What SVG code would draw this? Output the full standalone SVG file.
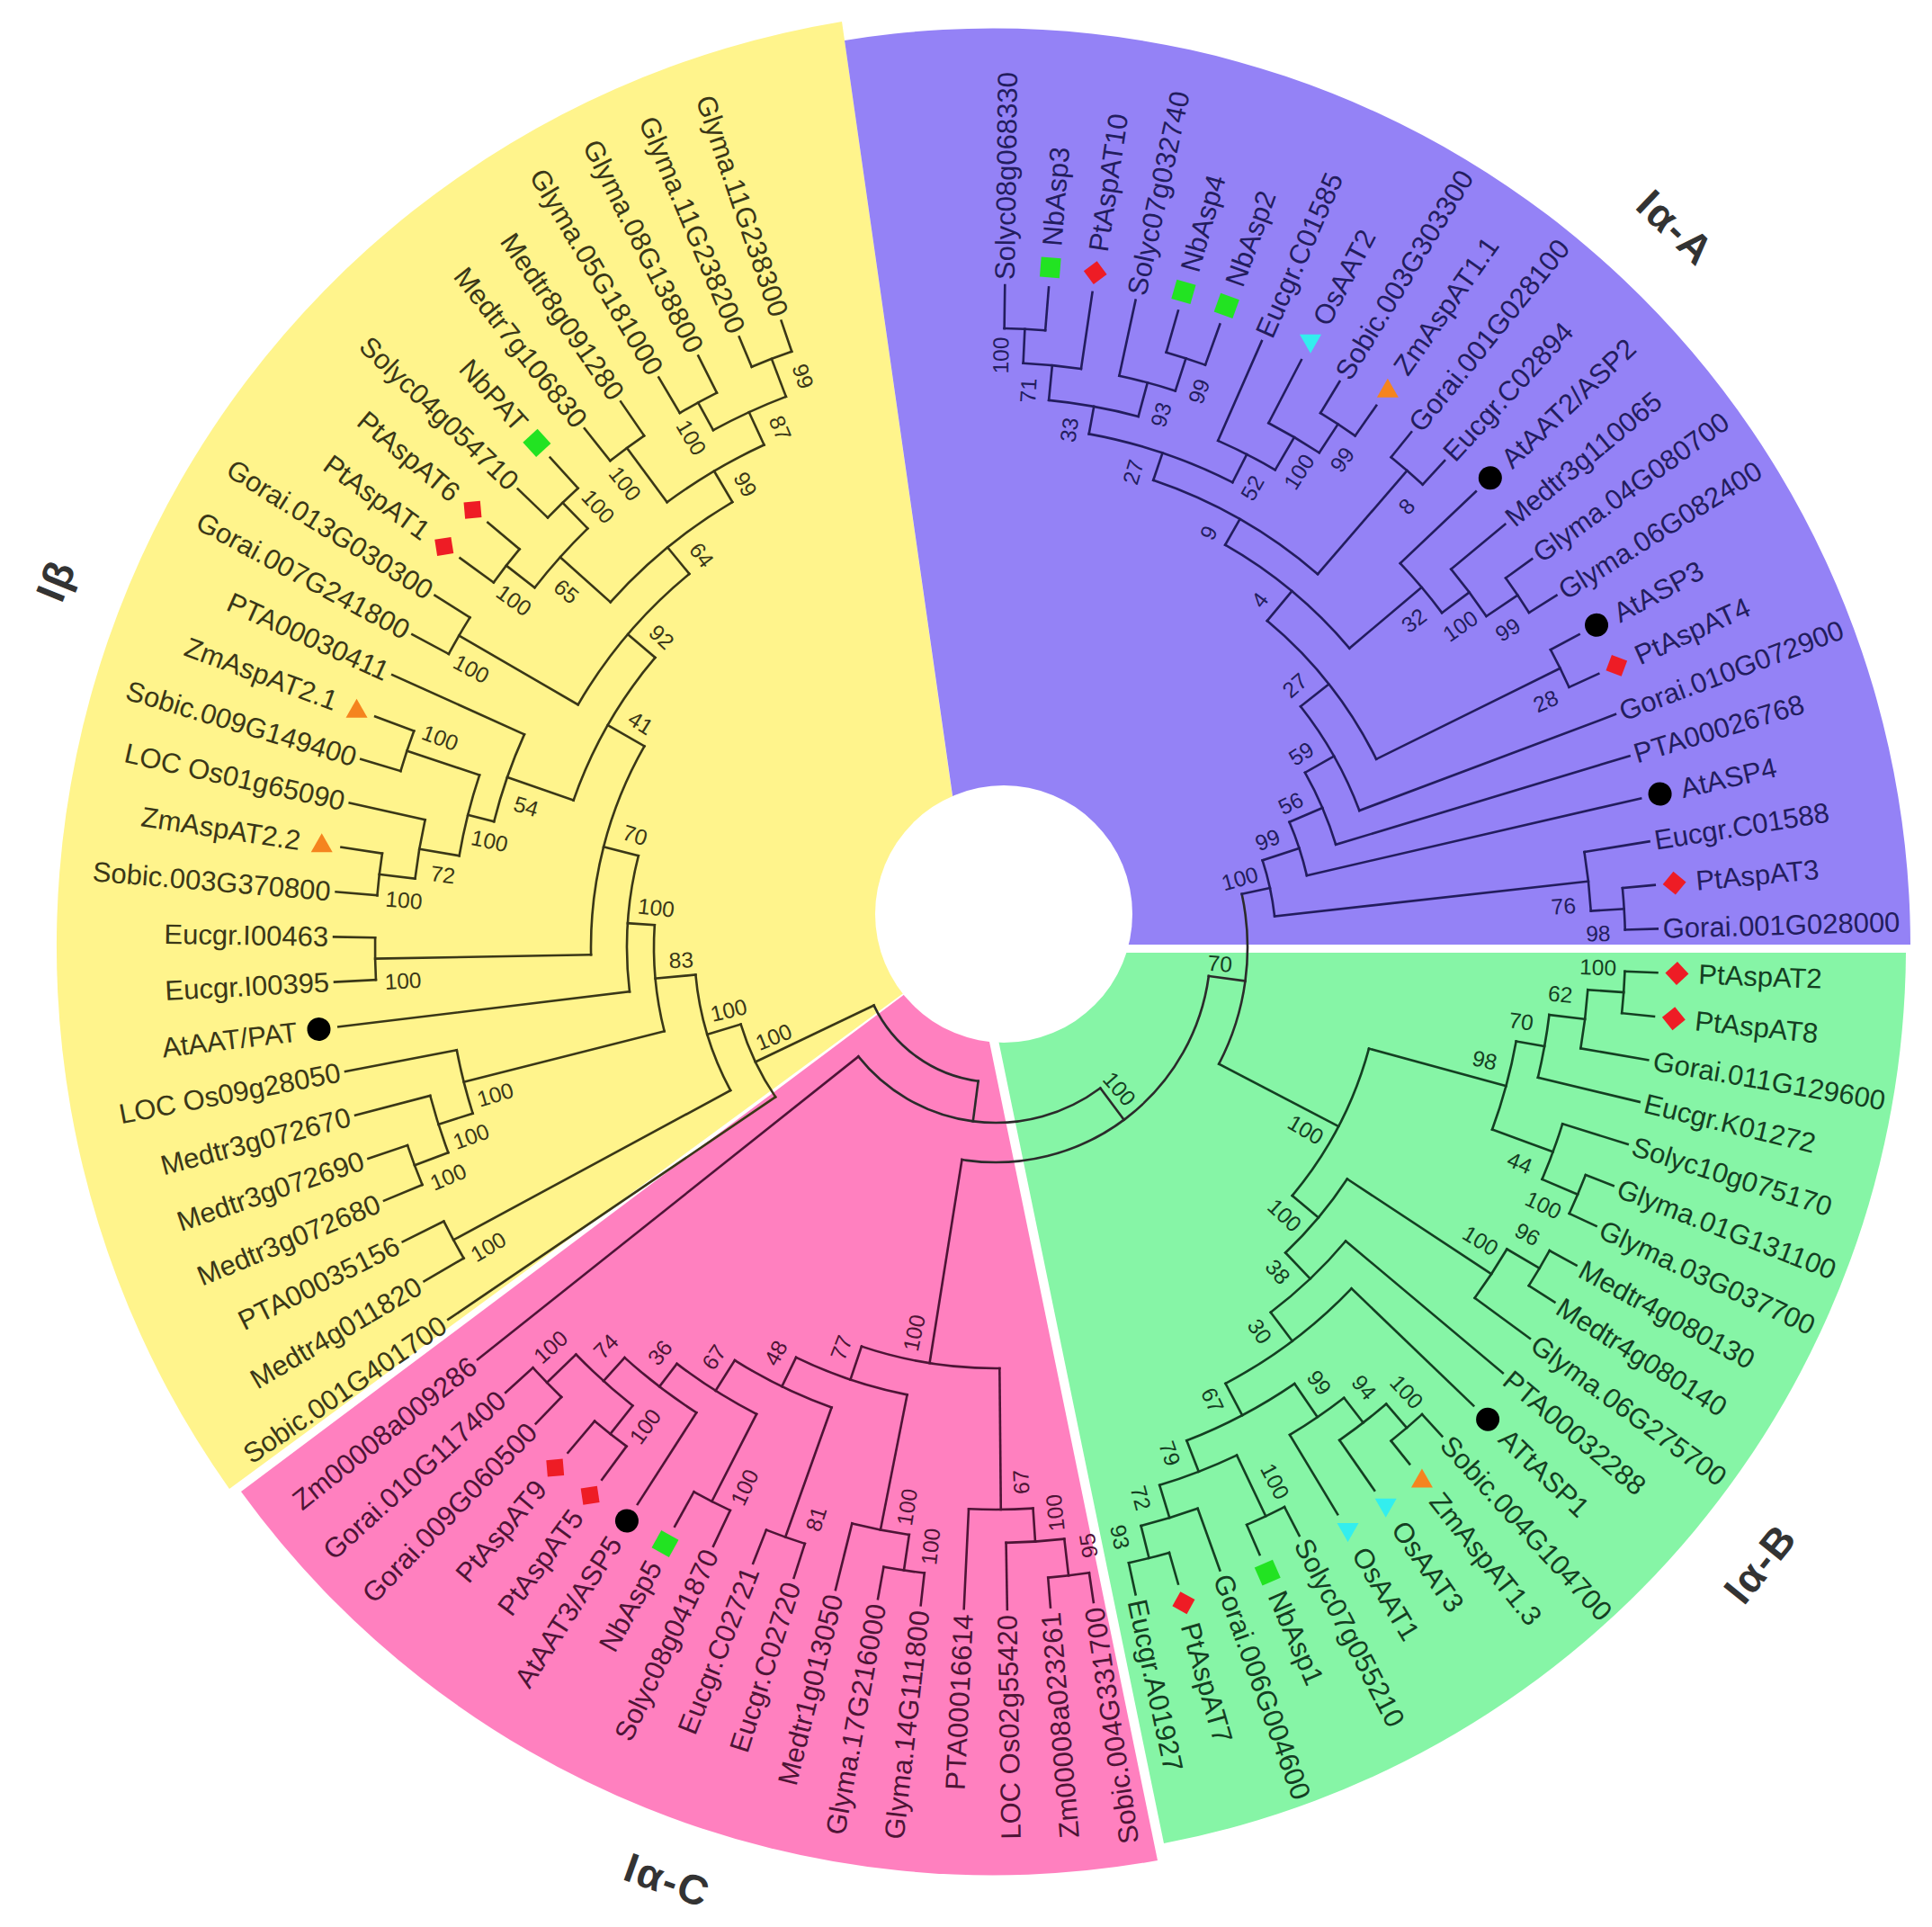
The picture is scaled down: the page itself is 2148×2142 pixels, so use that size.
<svg xmlns="http://www.w3.org/2000/svg" width="2148" height="2142" viewBox="0 0 2148 2142">
<style>
text{font-family:'Liberation Sans',Arial,sans-serif;dominant-baseline:central}
.t{font-size:31px}
.e{text-anchor:end}
.b{font-size:24.5px;text-anchor:middle}
.cl{font-size:46px;font-weight:bold;fill:#333;text-anchor:middle;letter-spacing:2px}
.A{fill:#231d5e}.B{fill:#143f22}.C{fill:#4e1436}.Y{fill:#3a3717}
</style>
<defs>
<rect id="sq" x="-11" y="-11" width="22" height="22" fill="#22e322"/>
<path id="di" d="M-13 0L0-13L13 0L0 13Z" fill="#ee1c25"/>
<circle id="ci" r="13" fill="#000"/>
<path id="tu" d="M0-12L12 9H-12Z" fill="#f5841f"/>
<path id="td" d="M-12-9H12L0 12Z" fill="#33eeee"/>
</defs>
<rect width="2148" height="2142" fill="#fff"/>
<g id="sectors" transform="translate(1104 1052)">
<path d="M-22 -5L-849 603A1042 1042 0 0 1 -168 -1028Z" fill="#fff48c"/>
<path d="M-21 0L-165 -1007A1020 1020 0 0 1 1020 -2L20 -2Z" fill="#9482f6"/>
<path d="M-14 7L1015 7A1015 1015 0 0 1 190 997Z" fill="#86f5a6"/>
<path d="M-26 -1L183 1016A1032 1032 0 0 1 -836 606Z" fill="#ff80bf"/>
</g>
<circle id="hole" cx="1116" cy="1016" r="143" fill="#fff"/>
<g id="branches" transform="translate(1107 1053)" fill="none" stroke-width="2.6" stroke-linecap="square">
<g id="br-root" stroke="#2b2b2b">
<circle r="280" pathLength="360" stroke-dasharray="39.77 720" transform="rotate(-12.2)"/>
<circle r="239" pathLength="360" stroke-dasharray="91.34 720" transform="rotate(7.69)"/>
<circle r="195" pathLength="360" stroke-dasharray="88.14 720" transform="rotate(53.36)"/>
<circle r="150" pathLength="360" stroke-dasharray="57.07 720" transform="rotate(97.43)"/>
<line x1="239" x2="280" transform="rotate(7.69)"/>
<line x1="195" x2="239" transform="rotate(53.36)"/>
<line x1="150" x2="195" transform="rotate(97.43)"/>
</g>
<g id="br-A" stroke="#231d5e">
<circle r="688" pathLength="360" stroke-dasharray="3.8 720" transform="rotate(-89.2)"/>
<circle r="650" pathLength="360" stroke-dasharray="5.7 720" transform="rotate(-87.3)"/>
<circle r="688" pathLength="360" stroke-dasharray="3.8 720" transform="rotate(-74)"/>
<circle r="650" pathLength="360" stroke-dasharray="5.7 720" transform="rotate(-77.8)"/>
<circle r="611" pathLength="360" stroke-dasharray="9.5 720" transform="rotate(-84.45)"/>
<circle r="695" pathLength="360" stroke-dasharray="3.8 720" transform="rotate(-58.7)"/>
<circle r="657" pathLength="360" stroke-dasharray="5.7 720" transform="rotate(-62.5)"/>
<circle r="615" pathLength="360" stroke-dasharray="6.65 720" transform="rotate(-66.3)"/>
<circle r="580" pathLength="360" stroke-dasharray="16.7 720" transform="rotate(-79.7)"/>
<circle r="700" pathLength="360" stroke-dasharray="3.8 720" transform="rotate(-51.1)"/>
<circle r="548" pathLength="360" stroke-dasharray="22.15 720" transform="rotate(-71.35)"/>
<circle r="700" pathLength="360" stroke-dasharray="3.8 720" transform="rotate(-35.9)"/>
<circle r="658" pathLength="360" stroke-dasharray="5.7 720" transform="rotate(-39.7)"/>
<circle r="620" pathLength="360" stroke-dasharray="6.65 720" transform="rotate(-43.5)"/>
<circle r="515" pathLength="360" stroke-dasharray="20.1 720" transform="rotate(-60.3)"/>
<circle r="700" pathLength="360" stroke-dasharray="3.8 720" transform="rotate(-28.2)"/>
<circle r="472" pathLength="360" stroke-dasharray="23.95 720" transform="rotate(-50.25)"/>
<circle r="432" pathLength="360" stroke-dasharray="17.7 720" transform="rotate(-38.3)"/>
<circle r="395" pathLength="360" stroke-dasharray="12.65 720" transform="rotate(-29.45)"/>
<circle r="355" pathLength="360" stroke-dasharray="10.1 720" transform="rotate(-23.1)"/>
<circle r="700" pathLength="360" stroke-dasharray="3.8 720" transform="rotate(-5.4)"/>
<circle r="663" pathLength="360" stroke-dasharray="5.7 720" transform="rotate(-9.2)"/>
<circle r="312" pathLength="360" stroke-dasharray="11.7 720" transform="rotate(-18.05)"/>
<line x1="688" x2="736" transform="rotate(-89.2)"/>
<line x1="688" x2="736" transform="rotate(-85.4)"/>
<line x1="650" x2="736" transform="rotate(-81.6)"/>
<line x1="650" x2="736" transform="rotate(-77.8)"/>
<line x1="688" x2="736" transform="rotate(-74)"/>
<line x1="688" x2="736" transform="rotate(-70.2)"/>
<line x1="615" x2="736" transform="rotate(-66.3)"/>
<line x1="657" x2="736" transform="rotate(-62.5)"/>
<line x1="695" x2="736" transform="rotate(-58.7)"/>
<line x1="695" x2="736" transform="rotate(-54.9)"/>
<line x1="700" x2="736" transform="rotate(-51.1)"/>
<line x1="700" x2="736" transform="rotate(-47.3)"/>
<line x1="620" x2="736" transform="rotate(-43.5)"/>
<line x1="658" x2="736" transform="rotate(-39.7)"/>
<line x1="700" x2="736" transform="rotate(-35.9)"/>
<line x1="700" x2="736" transform="rotate(-32.1)"/>
<line x1="700" x2="736" transform="rotate(-28.2)"/>
<line x1="700" x2="736" transform="rotate(-24.4)"/>
<line x1="432" x2="736" transform="rotate(-20.6)"/>
<line x1="395" x2="736" transform="rotate(-16.8)"/>
<line x1="355" x2="736" transform="rotate(-13)"/>
<line x1="663" x2="736" transform="rotate(-9.2)"/>
<line x1="700" x2="736" transform="rotate(-5.4)"/>
<line x1="700" x2="736" transform="rotate(-1.6)"/>
<line x1="650" x2="688" transform="rotate(-87.3)"/>
<line x1="611" x2="650" transform="rotate(-84.45)"/>
<line x1="650" x2="688" transform="rotate(-72.1)"/>
<line x1="611" x2="650" transform="rotate(-74.95)"/>
<line x1="580" x2="611" transform="rotate(-79.7)"/>
<line x1="657" x2="695" transform="rotate(-56.8)"/>
<line x1="615" x2="657" transform="rotate(-59.65)"/>
<line x1="580" x2="615" transform="rotate(-63)"/>
<line x1="548" x2="580" transform="rotate(-71.35)"/>
<line x1="548" x2="700" transform="rotate(-49.2)"/>
<line x1="515" x2="548" transform="rotate(-60.3)"/>
<line x1="658" x2="700" transform="rotate(-34)"/>
<line x1="620" x2="658" transform="rotate(-36.85)"/>
<line x1="515" x2="620" transform="rotate(-40.2)"/>
<line x1="472" x2="515" transform="rotate(-50.25)"/>
<line x1="472" x2="700" transform="rotate(-26.3)"/>
<line x1="432" x2="472" transform="rotate(-38.3)"/>
<line x1="395" x2="432" transform="rotate(-29.45)"/>
<line x1="355" x2="395" transform="rotate(-23.1)"/>
<line x1="312" x2="355" transform="rotate(-18.05)"/>
<line x1="663" x2="700" transform="rotate(-3.5)"/>
<line x1="312" x2="663" transform="rotate(-6.35)"/>
<line x1="280" x2="312" transform="rotate(-12.2)"/>
</g>
<g id="br-B" stroke="#143f22">
<circle r="700" pathLength="360" stroke-dasharray="3.8 720" transform="rotate(2.2)"/>
<circle r="660" pathLength="360" stroke-dasharray="5.7 720" transform="rotate(4.1)"/>
<circle r="620" pathLength="360" stroke-dasharray="6.55 720" transform="rotate(6.95)"/>
<circle r="703" pathLength="360" stroke-dasharray="3.8 720" transform="rotate(21.1)"/>
<circle r="660" pathLength="360" stroke-dasharray="5.7 720" transform="rotate(17.3)"/>
<circle r="588" pathLength="360" stroke-dasharray="9.92 720" transform="rotate(10.23)"/>
<circle r="702" pathLength="360" stroke-dasharray="3.7 720" transform="rotate(28.7)"/>
<circle r="660" pathLength="360" stroke-dasharray="5.65 720" transform="rotate(30.55)"/>
<circle r="703" pathLength="360" stroke-dasharray="3.7 720" transform="rotate(47.6)"/>
<circle r="668" pathLength="360" stroke-dasharray="5.65 720" transform="rotate(49.45)"/>
<circle r="633" pathLength="360" stroke-dasharray="6.62 720" transform="rotate(52.28)"/>
<circle r="700" pathLength="360" stroke-dasharray="3.8 720" transform="rotate(62.7)"/>
<circle r="700" pathLength="360" stroke-dasharray="3.8 720" transform="rotate(74)"/>
<circle r="663" pathLength="360" stroke-dasharray="5.7 720" transform="rotate(70.2)"/>
<circle r="625" pathLength="360" stroke-dasharray="8.45 720" transform="rotate(64.6)"/>
<circle r="588" pathLength="360" stroke-dasharray="13.24 720" transform="rotate(55.59)"/>
<circle r="548" pathLength="360" stroke-dasharray="18.41 720" transform="rotate(43.8)"/>
<circle r="508" pathLength="360" stroke-dasharray="13 720" transform="rotate(40)"/>
<circle r="468" pathLength="360" stroke-dasharray="13.12 720" transform="rotate(33.38)"/>
<circle r="430" pathLength="360" stroke-dasharray="24.75 720" transform="rotate(15.19)"/>
<line x1="700" x2="736" transform="rotate(2.2)"/>
<line x1="700" x2="736" transform="rotate(6)"/>
<line x1="660" x2="736" transform="rotate(9.8)"/>
<line x1="620" x2="736" transform="rotate(13.5)"/>
<line x1="660" x2="736" transform="rotate(17.3)"/>
<line x1="703" x2="736" transform="rotate(21.1)"/>
<line x1="703" x2="736" transform="rotate(24.9)"/>
<line x1="702" x2="736" transform="rotate(28.7)"/>
<line x1="702" x2="736" transform="rotate(32.4)"/>
<line x1="660" x2="736" transform="rotate(36.2)"/>
<line x1="508" x2="736" transform="rotate(40)"/>
<line x1="548" x2="736" transform="rotate(43.8)"/>
<line x1="703" x2="736" transform="rotate(47.6)"/>
<line x1="703" x2="736" transform="rotate(51.3)"/>
<line x1="668" x2="736" transform="rotate(55.1)"/>
<line x1="633" x2="736" transform="rotate(58.9)"/>
<line x1="700" x2="736" transform="rotate(62.7)"/>
<line x1="700" x2="736" transform="rotate(66.5)"/>
<line x1="663" x2="736" transform="rotate(70.2)"/>
<line x1="700" x2="736" transform="rotate(74)"/>
<line x1="700" x2="736" transform="rotate(77.8)"/>
<line x1="660" x2="700" transform="rotate(4.1)"/>
<line x1="620" x2="660" transform="rotate(6.95)"/>
<line x1="588" x2="620" transform="rotate(10.23)"/>
<line x1="660" x2="703" transform="rotate(23)"/>
<line x1="588" x2="660" transform="rotate(20.15)"/>
<line x1="430" x2="588" transform="rotate(15.19)"/>
<line x1="660" x2="702" transform="rotate(30.55)"/>
<line x1="468" x2="660" transform="rotate(33.38)"/>
<line x1="668" x2="703" transform="rotate(49.45)"/>
<line x1="633" x2="668" transform="rotate(52.28)"/>
<line x1="588" x2="633" transform="rotate(55.59)"/>
<line x1="625" x2="700" transform="rotate(64.6)"/>
<line x1="663" x2="700" transform="rotate(75.9)"/>
<line x1="625" x2="663" transform="rotate(73.05)"/>
<line x1="588" x2="625" transform="rotate(68.83)"/>
<line x1="548" x2="588" transform="rotate(62.21)"/>
<line x1="508" x2="548" transform="rotate(53)"/>
<line x1="468" x2="508" transform="rotate(46.5)"/>
<line x1="430" x2="468" transform="rotate(39.94)"/>
<line x1="280" x2="430" transform="rotate(27.57)"/>
</g>
<g id="br-C" stroke="#4e1436">
<circle r="703" pathLength="360" stroke-dasharray="3.75 720" transform="rotate(81.5)"/>
<circle r="662" pathLength="360" stroke-dasharray="5.62 720" transform="rotate(83.38)"/>
<circle r="625" pathLength="360" stroke-dasharray="6.56 720" transform="rotate(86.19)"/>
<circle r="700" pathLength="360" stroke-dasharray="3.75 720" transform="rotate(96.5)"/>
<circle r="660" pathLength="360" stroke-dasharray="5.62 720" transform="rotate(98.38)"/>
<circle r="696" pathLength="360" stroke-dasharray="3.75 720" transform="rotate(107.75)"/>
<circle r="692" pathLength="360" stroke-dasharray="3.75 720" transform="rotate(115.25)"/>
<circle r="690" pathLength="360" stroke-dasharray="3.75 720" transform="rotate(126.5)"/>
<circle r="695" pathLength="360" stroke-dasharray="3.75 720" transform="rotate(134)"/>
<circle r="650" pathLength="360" stroke-dasharray="7.5 720" transform="rotate(128.38)"/>
<circle r="615" pathLength="360" stroke-dasharray="9.38 720" transform="rotate(122.75)"/>
<circle r="583" pathLength="360" stroke-dasharray="10.31 720" transform="rotate(117.13)"/>
<circle r="543" pathLength="360" stroke-dasharray="12.66 720" transform="rotate(109.63)"/>
<circle r="507" pathLength="360" stroke-dasharray="14.77 720" transform="rotate(101.19)"/>
<circle r="468" pathLength="360" stroke-dasharray="19.11 720" transform="rotate(89.47)"/>
<line x1="703" x2="736" transform="rotate(81.5)"/>
<line x1="703" x2="736" transform="rotate(85.25)"/>
<line x1="662" x2="736" transform="rotate(89)"/>
<line x1="625" x2="736" transform="rotate(92.75)"/>
<line x1="700" x2="736" transform="rotate(96.5)"/>
<line x1="700" x2="736" transform="rotate(100.25)"/>
<line x1="660" x2="736" transform="rotate(104)"/>
<line x1="696" x2="736" transform="rotate(107.75)"/>
<line x1="696" x2="736" transform="rotate(111.5)"/>
<line x1="692" x2="736" transform="rotate(115.25)"/>
<line x1="692" x2="736" transform="rotate(119)"/>
<line x1="615" x2="736" transform="rotate(122.75)"/>
<line x1="690" x2="736" transform="rotate(126.5)"/>
<line x1="690" x2="736" transform="rotate(130.25)"/>
<line x1="695" x2="736" transform="rotate(134)"/>
<line x1="695" x2="736" transform="rotate(137.75)"/>
<line x1="195" x2="736" transform="rotate(141.5)"/>
<line x1="662" x2="703" transform="rotate(83.38)"/>
<line x1="625" x2="662" transform="rotate(86.19)"/>
<line x1="468" x2="625" transform="rotate(89.47)"/>
<line x1="660" x2="700" transform="rotate(98.38)"/>
<line x1="507" x2="660" transform="rotate(101.19)"/>
<line x1="543" x2="696" transform="rotate(109.63)"/>
<line x1="583" x2="692" transform="rotate(117.13)"/>
<line x1="650" x2="690" transform="rotate(128.38)"/>
<line x1="650" x2="695" transform="rotate(135.88)"/>
<line x1="615" x2="650" transform="rotate(132.13)"/>
<line x1="583" x2="615" transform="rotate(127.44)"/>
<line x1="543" x2="583" transform="rotate(122.29)"/>
<line x1="507" x2="543" transform="rotate(115.96)"/>
<line x1="468" x2="507" transform="rotate(108.58)"/>
<line x1="239" x2="468" transform="rotate(99.03)"/>
</g>
<g id="br-Y" stroke="#3a3717">
<circle r="700" pathLength="360" stroke-dasharray="3.9 720" transform="rotate(247.2)"/>
<circle r="690" pathLength="360" stroke-dasharray="3.9 720" transform="rotate(239.4)"/>
<circle r="655" pathLength="360" stroke-dasharray="7.8 720" transform="rotate(241.35)"/>
<circle r="690" pathLength="360" stroke-dasharray="3.9 720" transform="rotate(231.6)"/>
<circle r="615" pathLength="360" stroke-dasharray="11.7 720" transform="rotate(233.55)"/>
<circle r="690" pathLength="360" stroke-dasharray="3.9 720" transform="rotate(223.8)"/>
<circle r="690" pathLength="360" stroke-dasharray="3.9 720" transform="rotate(216)"/>
<circle r="650" pathLength="360" stroke-dasharray="7.8 720" transform="rotate(217.95)"/>
<circle r="575" pathLength="360" stroke-dasharray="17.55 720" transform="rotate(221.85)"/>
<circle r="690" pathLength="360" stroke-dasharray="3.9 720" transform="rotate(208.2)"/>
<circle r="537" pathLength="360" stroke-dasharray="20.48 720" transform="rotate(210.15)"/>
<circle r="690" pathLength="360" stroke-dasharray="3.9 720" transform="rotate(196.5)"/>
<circle r="690" pathLength="360" stroke-dasharray="3.9 720" transform="rotate(184.8)"/>
<circle r="650" pathLength="360" stroke-dasharray="5.85 720" transform="rotate(186.75)"/>
<circle r="605" pathLength="360" stroke-dasharray="8.77 720" transform="rotate(189.68)"/>
<circle r="575" pathLength="360" stroke-dasharray="10.23 720" transform="rotate(194.07)"/>
<circle r="497" pathLength="360" stroke-dasharray="21.2 720" transform="rotate(199.19)"/>
<circle r="690" pathLength="360" stroke-dasharray="3.9 720" transform="rotate(177)"/>
<circle r="450" pathLength="360" stroke-dasharray="30.84 720" transform="rotate(178.95)"/>
<circle r="410" pathLength="360" stroke-dasharray="21.27 720" transform="rotate(173.1)"/>
<circle r="690" pathLength="360" stroke-dasharray="3.9 720" transform="rotate(157.5)"/>
<circle r="650" pathLength="360" stroke-dasharray="5.85 720" transform="rotate(159.45)"/>
<circle r="610" pathLength="360" stroke-dasharray="6.82 720" transform="rotate(162.38)"/>
<circle r="380" pathLength="360" stroke-dasharray="17.95 720" transform="rotate(165.79)"/>
<circle r="685" pathLength="360" stroke-dasharray="3.9 720" transform="rotate(149.7)"/>
<circle r="335" pathLength="360" stroke-dasharray="23.12 720" transform="rotate(151.65)"/>
<circle r="296" pathLength="360" stroke-dasharray="17.41 720" transform="rotate(145.8)"/>
<line x1="296" x2="736" transform="rotate(145.8)"/>
<line x1="685" x2="736" transform="rotate(149.7)"/>
<line x1="685" x2="736" transform="rotate(153.6)"/>
<line x1="690" x2="736" transform="rotate(157.5)"/>
<line x1="690" x2="736" transform="rotate(161.4)"/>
<line x1="650" x2="736" transform="rotate(165.3)"/>
<line x1="610" x2="736" transform="rotate(169.2)"/>
<line x1="410" x2="736" transform="rotate(173.1)"/>
<line x1="690" x2="736" transform="rotate(177)"/>
<line x1="690" x2="736" transform="rotate(180.9)"/>
<line x1="690" x2="736" transform="rotate(184.8)"/>
<line x1="690" x2="736" transform="rotate(188.7)"/>
<line x1="650" x2="736" transform="rotate(192.6)"/>
<line x1="690" x2="736" transform="rotate(196.5)"/>
<line x1="690" x2="736" transform="rotate(200.4)"/>
<line x1="575" x2="736" transform="rotate(204.3)"/>
<line x1="690" x2="736" transform="rotate(208.2)"/>
<line x1="690" x2="736" transform="rotate(212.1)"/>
<line x1="690" x2="736" transform="rotate(216)"/>
<line x1="690" x2="736" transform="rotate(219.9)"/>
<line x1="690" x2="736" transform="rotate(223.8)"/>
<line x1="690" x2="736" transform="rotate(227.7)"/>
<line x1="690" x2="736" transform="rotate(231.6)"/>
<line x1="690" x2="736" transform="rotate(235.5)"/>
<line x1="690" x2="736" transform="rotate(239.4)"/>
<line x1="690" x2="736" transform="rotate(243.3)"/>
<line x1="700" x2="736" transform="rotate(247.2)"/>
<line x1="700" x2="736" transform="rotate(251.1)"/>
<line x1="655" x2="700" transform="rotate(249.15)"/>
<line x1="655" x2="690" transform="rotate(241.35)"/>
<line x1="615" x2="655" transform="rotate(245.25)"/>
<line x1="615" x2="690" transform="rotate(233.55)"/>
<line x1="575" x2="615" transform="rotate(239.4)"/>
<line x1="650" x2="690" transform="rotate(225.75)"/>
<line x1="650" x2="690" transform="rotate(217.95)"/>
<line x1="575" x2="650" transform="rotate(221.85)"/>
<line x1="537" x2="575" transform="rotate(230.63)"/>
<line x1="537" x2="690" transform="rotate(210.15)"/>
<line x1="497" x2="537" transform="rotate(220.39)"/>
<line x1="605" x2="690" transform="rotate(198.45)"/>
<line x1="650" x2="690" transform="rotate(186.75)"/>
<line x1="605" x2="650" transform="rotate(189.68)"/>
<line x1="575" x2="605" transform="rotate(194.07)"/>
<line x1="497" x2="575" transform="rotate(199.19)"/>
<line x1="450" x2="497" transform="rotate(209.79)"/>
<line x1="450" x2="690" transform="rotate(178.95)"/>
<line x1="410" x2="450" transform="rotate(194.37)"/>
<line x1="380" x2="410" transform="rotate(183.74)"/>
<line x1="650" x2="690" transform="rotate(159.45)"/>
<line x1="610" x2="650" transform="rotate(162.38)"/>
<line x1="380" x2="610" transform="rotate(165.79)"/>
<line x1="335" x2="685" transform="rotate(151.65)"/>
<line x1="335" x2="380" transform="rotate(174.77)"/>
<line x1="296" x2="335" transform="rotate(163.21)"/>
<line x1="150" x2="296" transform="rotate(154.5)"/>
</g>
</g>
<g id="leaves" transform="translate(1107 1053)">
<g class="A">
<g id="n-Solyc08g068330"><text class="t" transform="rotate(-89.2)" x="742">Solyc08g068330</text></g>
<g id="n-NbAsp3"><use href="#sq" transform="rotate(-85.4) translate(758)"/><text class="t" transform="rotate(-85.4)" x="782">NbAsp3</text></g>
<g id="n-PtAspAT10"><use href="#di" transform="rotate(-81.6) translate(758)"/><text class="t" transform="rotate(-81.6)" x="782">PtAspAT10</text></g>
<g id="n-Solyc07g032740"><text class="t" transform="rotate(-77.8)" x="742">Solyc07g032740</text></g>
<g id="n-NbAsp4"><use href="#sq" transform="rotate(-74) translate(758)"/><text class="t" transform="rotate(-74)" x="782">NbAsp4</text></g>
<g id="n-NbAsp2"><use href="#sq" transform="rotate(-70.2) translate(758)"/><text class="t" transform="rotate(-70.2)" x="782">NbAsp2</text></g>
<g id="n-Eucgr.C01585"><text class="t" transform="rotate(-66.3)" x="742">Eucgr.C01585</text></g>
<g id="n-OsAAT2"><use href="#td" transform="rotate(-62.5) translate(758) rotate(62.5)"/><text class="t" transform="rotate(-62.5)" x="782">OsAAT2</text></g>
<g id="n-Sobic.003G303300"><text class="t" transform="rotate(-58.7)" x="742">Sobic.003G303300</text></g>
<g id="n-ZmAspAT1.1"><use href="#tu" transform="rotate(-54.9) translate(758) rotate(54.9)"/><text class="t" transform="rotate(-54.9)" x="782">ZmAspAT1.1</text></g>
<g id="n-Gorai.001G028100"><text class="t" transform="rotate(-51.1)" x="742">Gorai.001G028100</text></g>
<g id="n-Eucgr.C02894"><text class="t" transform="rotate(-47.3)" x="742">Eucgr.C02894</text></g>
<g id="n-AtAAT2-ASP2"><use href="#ci" transform="rotate(-43.5) translate(758)"/><text class="t" transform="rotate(-43.5)" x="782">AtAAT2/ASP2</text></g>
<g id="n-Medtr3g110065"><text class="t" transform="rotate(-39.7)" x="742">Medtr3g110065</text></g>
<g id="n-Glyma.04G080700"><text class="t" transform="rotate(-35.9)" x="742">Glyma.04G080700</text></g>
<g id="n-Glyma.06G082400"><text class="t" transform="rotate(-32.1)" x="742">Glyma.06G082400</text></g>
<g id="n-AtASP3"><use href="#ci" transform="rotate(-28.2) translate(758)"/><text class="t" transform="rotate(-28.2)" x="782">AtASP3</text></g>
<g id="n-PtAspAT4"><use href="#di" transform="rotate(-24.4) translate(758)"/><text class="t" transform="rotate(-24.4)" x="782">PtAspAT4</text></g>
<g id="n-Gorai.010G072900"><text class="t" transform="rotate(-20.6)" x="742">Gorai.010G072900</text></g>
<g id="n-PTA00026768"><text class="t" transform="rotate(-16.8)" x="742">PTA00026768</text></g>
<g id="n-AtASP4"><use href="#ci" transform="rotate(-13) translate(758)"/><text class="t" transform="rotate(-13)" x="782">AtASP4</text></g>
<g id="n-Eucgr.C01588"><text class="t" transform="rotate(-9.2)" x="742">Eucgr.C01588</text></g>
<g id="n-PtAspAT3"><use href="#di" transform="rotate(-5.4) translate(758)"/><text class="t" transform="rotate(-5.4)" x="782">PtAspAT3</text></g>
<g id="n-Gorai.001G028000"><text class="t" transform="rotate(-1.6)" x="742">Gorai.001G028000</text></g>
</g>
<g class="B">
<g id="n-PtAspAT2"><use href="#di" transform="rotate(2.2) translate(758)"/><text class="t" transform="rotate(2.2)" x="782">PtAspAT2</text></g>
<g id="n-PtAspAT8"><use href="#di" transform="rotate(6) translate(758)"/><text class="t" transform="rotate(6)" x="782">PtAspAT8</text></g>
<g id="n-Gorai.011G129600"><text class="t" transform="rotate(9.8)" x="742">Gorai.011G129600</text></g>
<g id="n-Eucgr.K01272"><text class="t" transform="rotate(13.5)" x="742">Eucgr.K01272</text></g>
<g id="n-Solyc10g075170"><text class="t" transform="rotate(17.3)" x="742">Solyc10g075170</text></g>
<g id="n-Glyma.01G131100"><text class="t" transform="rotate(21.1)" x="742">Glyma.01G131100</text></g>
<g id="n-Glyma.03G037700"><text class="t" transform="rotate(24.9)" x="742">Glyma.03G037700</text></g>
<g id="n-Medtr4g080130"><text class="t" transform="rotate(28.7)" x="742">Medtr4g080130</text></g>
<g id="n-Medtr4g080140"><text class="t" transform="rotate(32.4)" x="742">Medtr4g080140</text></g>
<g id="n-Glyma.06G275700"><text class="t" transform="rotate(36.2)" x="742">Glyma.06G275700</text></g>
<g id="n-PTA00032288"><text class="t" transform="rotate(40)" x="742">PTA00032288</text></g>
<g id="n-ATtASP1"><use href="#ci" transform="rotate(43.8) translate(758)"/><text class="t" transform="rotate(43.8)" x="782">ATtASP1</text></g>
<g id="n-Sobic.004G104700"><text class="t" transform="rotate(47.6)" x="742">Sobic.004G104700</text></g>
<g id="n-ZmAspAT1.3"><use href="#tu" transform="rotate(51.3) translate(758) rotate(-51.3)"/><text class="t" transform="rotate(51.3)" x="782">ZmAspAT1.3</text></g>
<g id="n-OsAAT3"><use href="#td" transform="rotate(55.1) translate(758) rotate(-55.1)"/><text class="t" transform="rotate(55.1)" x="782">OsAAT3</text></g>
<g id="n-OsAAT1"><use href="#td" transform="rotate(58.9) translate(758) rotate(-58.9)"/><text class="t" transform="rotate(58.9)" x="782">OsAAT1</text></g>
<g id="n-Solyc07g055210"><text class="t" transform="rotate(62.7)" x="742">Solyc07g055210</text></g>
<g id="n-NbAsp1"><use href="#sq" transform="rotate(66.5) translate(758)"/><text class="t" transform="rotate(66.5)" x="782">NbAsp1</text></g>
<g id="n-Gorai.006G004600"><text class="t" transform="rotate(70.2)" x="742">Gorai.006G004600</text></g>
<g id="n-PtAspAT7"><use href="#di" transform="rotate(74) translate(758)"/><text class="t" transform="rotate(74)" x="782">PtAspAT7</text></g>
<g id="n-Eucgr.A01927"><text class="t" transform="rotate(77.8)" x="742">Eucgr.A01927</text></g>
</g>
<g class="C">
<g id="n-Sobic.004G331700"><text class="t e" transform="rotate(-98.5)" x="-742">Sobic.004G331700</text></g>
<g id="n-Zm00008a023261"><text class="t e" transform="rotate(-94.75)" x="-742">Zm00008a023261</text></g>
<g id="n-LOC-Os02g55420"><text class="t e" transform="rotate(-91)" x="-742">LOC Os02g55420</text></g>
<g id="n-PTA00016614"><text class="t e" transform="rotate(-87.25)" x="-742">PTA00016614</text></g>
<g id="n-Glyma.14G111800"><text class="t e" transform="rotate(-83.5)" x="-742">Glyma.14G111800</text></g>
<g id="n-Glyma.17G216000"><text class="t e" transform="rotate(-79.75)" x="-742">Glyma.17G216000</text></g>
<g id="n-Medtr1g013050"><text class="t e" transform="rotate(-76)" x="-742">Medtr1g013050</text></g>
<g id="n-Eucgr.C02720"><text class="t e" transform="rotate(-72.25)" x="-742">Eucgr.C02720</text></g>
<g id="n-Eucgr.C02721"><text class="t e" transform="rotate(-68.5)" x="-742">Eucgr.C02721</text></g>
<g id="n-Solyc08g041870"><text class="t e" transform="rotate(-64.75)" x="-742">Solyc08g041870</text></g>
<g id="n-NbAsp5"><use href="#sq" transform="rotate(119) translate(758)"/><text class="t e" transform="rotate(-61)" x="-782">NbAsp5</text></g>
<g id="n-AtAAT3-ASP5"><use href="#ci" transform="rotate(122.75) translate(758)"/><text class="t e" transform="rotate(-57.25)" x="-782">AtAAT3/ASP5</text></g>
<g id="n-PtAspAT5"><use href="#di" transform="rotate(126.5) translate(758)"/><text class="t e" transform="rotate(-53.5)" x="-782">PtAspAT5</text></g>
<g id="n-PtAspAT9"><use href="#di" transform="rotate(130.25) translate(758)"/><text class="t e" transform="rotate(-49.75)" x="-782">PtAspAT9</text></g>
<g id="n-Gorai.009G060500"><text class="t e" transform="rotate(-46)" x="-742">Gorai.009G060500</text></g>
<g id="n-Gorai.010G117400"><text class="t e" transform="rotate(-42.25)" x="-742">Gorai.010G117400</text></g>
<g id="n-Zm00008a009286"><text class="t e" transform="rotate(-38.5)" x="-742">Zm00008a009286</text></g>
</g>
<g class="Y">
<g id="n-Sobic.001G401700"><text class="t e" transform="rotate(-34.2)" x="-742">Sobic.001G401700</text></g>
<g id="n-Medtr4g011820"><text class="t e" transform="rotate(-30.3)" x="-742">Medtr4g011820</text></g>
<g id="n-PTA00035156"><text class="t e" transform="rotate(-26.4)" x="-742">PTA00035156</text></g>
<g id="n-Medtr3g072680"><text class="t e" transform="rotate(-22.5)" x="-742">Medtr3g072680</text></g>
<g id="n-Medtr3g072690"><text class="t e" transform="rotate(-18.6)" x="-742">Medtr3g072690</text></g>
<g id="n-Medtr3g072670"><text class="t e" transform="rotate(-14.7)" x="-742">Medtr3g072670</text></g>
<g id="n-LOC-Os09g28050"><text class="t e" transform="rotate(-10.8)" x="-742">LOC Os09g28050</text></g>
<g id="n-AtAAT-PAT"><use href="#ci" transform="rotate(173.1) translate(758)"/><text class="t e" transform="rotate(-6.9)" x="-782">AtAAT/PAT</text></g>
<g id="n-Eucgr.I00395"><text class="t e" transform="rotate(-3)" x="-742">Eucgr.I00395</text></g>
<g id="n-Eucgr.I00463"><text class="t e" transform="rotate(0.9)" x="-742">Eucgr.I00463</text></g>
<g id="n-Sobic.003G370800"><text class="t e" transform="rotate(4.8)" x="-742">Sobic.003G370800</text></g>
<g id="n-ZmAspAT2.2"><use href="#tu" transform="rotate(188.7) translate(758) rotate(-188.7)"/><text class="t e" transform="rotate(8.7)" x="-782">ZmAspAT2.2</text></g>
<g id="n-LOC-Os01g65090"><text class="t e" transform="rotate(12.6)" x="-742">LOC Os01g65090</text></g>
<g id="n-Sobic.009G149400"><text class="t e" transform="rotate(16.5)" x="-742">Sobic.009G149400</text></g>
<g id="n-ZmAspAT2.1"><use href="#tu" transform="rotate(200.4) translate(758) rotate(-200.4)"/><text class="t e" transform="rotate(20.4)" x="-782">ZmAspAT2.1</text></g>
<g id="n-PTA00030411"><text class="t e" transform="rotate(24.3)" x="-742">PTA00030411</text></g>
<g id="n-Gorai.007G241800"><text class="t e" transform="rotate(28.2)" x="-742">Gorai.007G241800</text></g>
<g id="n-Gorai.013G030300"><text class="t e" transform="rotate(32.1)" x="-742">Gorai.013G030300</text></g>
<g id="n-PtAspAT1"><use href="#di" transform="rotate(216) translate(758)"/><text class="t e" transform="rotate(36)" x="-782">PtAspAT1</text></g>
<g id="n-PtAspAT6"><use href="#di" transform="rotate(219.9) translate(758)"/><text class="t e" transform="rotate(39.9)" x="-782">PtAspAT6</text></g>
<g id="n-Solyc04g054710"><text class="t e" transform="rotate(43.8)" x="-742">Solyc04g054710</text></g>
<g id="n-NbPAT"><use href="#sq" transform="rotate(227.7) translate(758)"/><text class="t e" transform="rotate(47.7)" x="-782">NbPAT</text></g>
<g id="n-Medtr7g106830"><text class="t e" transform="rotate(51.6)" x="-742">Medtr7g106830</text></g>
<g id="n-Medtr8g091280"><text class="t e" transform="rotate(55.5)" x="-742">Medtr8g091280</text></g>
<g id="n-Glyma.05G181000"><text class="t e" transform="rotate(59.4)" x="-742">Glyma.05G181000</text></g>
<g id="n-Glyma.08G138800"><text class="t e" transform="rotate(63.3)" x="-742">Glyma.08G138800</text></g>
<g id="n-Glyma.11G238200"><text class="t e" transform="rotate(67.2)" x="-742">Glyma.11G238200</text></g>
<g id="n-Glyma.11G238300"><text class="t e" transform="rotate(71.1)" x="-742">Glyma.11G238300</text></g>
</g>
</g>
<g id="bootstrap" transform="translate(1107 1053)">
<g class="A">
<text class="b" transform="rotate(-89.5)" x="658">100</text>
<text class="b" transform="rotate(-86.65)" x="620">71</text>
<text class="b" transform="rotate(-69.9)" x="658">99</text>
<text class="b" transform="rotate(-72.75)" x="620">93</text>
<text class="b" transform="rotate(-81.9)" x="581">33</text>
<text class="b" transform="rotate(-54.6)" x="665">99</text>
<text class="b" transform="rotate(-57.45)" x="627">100</text>
<text class="b" transform="rotate(-60.8)" x="585">52</text>
<text class="b" transform="rotate(-73.85)" x="550">27</text>
<text class="b" transform="rotate(-47)" x="670">8</text>
<text class="b" transform="rotate(-62.8)" x="518">9</text>
<text class="b" transform="rotate(-31.8)" x="670">99</text>
<text class="b" transform="rotate(-34.65)" x="628">100</text>
<text class="b" transform="rotate(-38)" x="590">32</text>
<text class="b" transform="rotate(-52.75)" x="485">4</text>
<text class="b" transform="rotate(-24.1)" x="670">28</text>
<text class="b" transform="rotate(-41.2)" x="442">27</text>
<text class="b" transform="rotate(-32.35)" x="402">59</text>
<text class="b" transform="rotate(-26)" x="365">56</text>
<text class="b" transform="rotate(-21.55)" x="325">99</text>
<text class="b" transform="rotate(-1.3)" x="670">98</text>
<text class="b" transform="rotate(-4.15)" x="633">76</text>
<text class="b" transform="rotate(-15.7)" x="282">100</text>
</g>
<g class="B">
<text class="b" transform="rotate(1.9)" x="670">100</text>
<text class="b" transform="rotate(4.75)" x="630">62</text>
<text class="b" transform="rotate(8.03)" x="590">70</text>
<text class="b" transform="rotate(25.2)" x="673">100</text>
<text class="b" transform="rotate(22.35)" x="630">44</text>
<text class="b" transform="rotate(12.99)" x="558">98</text>
<text class="b" transform="rotate(28.35)" x="672">96</text>
<text class="b" transform="rotate(31.18)" x="630">100</text>
<text class="b" transform="rotate(47.25)" x="673">100</text>
<text class="b" transform="rotate(50.08)" x="638">94</text>
<text class="b" transform="rotate(53.39)" x="603">99</text>
<text class="b" transform="rotate(62.4)" x="670">100</text>
<text class="b" transform="rotate(78.1)" x="670">93</text>
<text class="b" transform="rotate(75.25)" x="633">72</text>
<text class="b" transform="rotate(71.03)" x="595">79</text>
<text class="b" transform="rotate(64.41)" x="558">67</text>
<text class="b" transform="rotate(55.5)" x="518">30</text>
<text class="b" transform="rotate(49)" x="478">38</text>
<text class="b" transform="rotate(42.84)" x="438">100</text>
<text class="b" transform="rotate(30.47)" x="400">100</text>
<text class="b" transform="rotate(4.19)" x="250">70</text>
<text class="b" transform="rotate(48.86)" x="209">100</text>
</g>
<g class="C">
<text class="b" transform="rotate(-98.82)" x="-673">95</text>
<text class="b" transform="rotate(-96.01)" x="-632">100</text>
<text class="b" transform="rotate(-92.73)" x="-595">67</text>
<text class="b" transform="rotate(-83.82)" x="-670">100</text>
<text class="b" transform="rotate(-81.01)" x="-630">100</text>
<text class="b" transform="rotate(-72.57)" x="-666">81</text>
<text class="b" transform="rotate(-65.07)" x="-662">100</text>
<text class="b" transform="rotate(-53.82)" x="-660">100</text>
<text class="b" transform="rotate(-41.92)" x="-665">100</text>
<text class="b" transform="rotate(-45.67)" x="-620">74</text>
<text class="b" transform="rotate(-50.36)" x="-585">36</text>
<text class="b" transform="rotate(-55.51)" x="-553">67</text>
<text class="b" transform="rotate(-61.54)" x="-513">48</text>
<text class="b" transform="rotate(-68.92)" x="-477">77</text>
<text class="b" transform="rotate(-78.07)" x="-438">100</text>
</g>
<g class="Y">
<text class="b" transform="rotate(71.35)" x="-670">99</text>
<text class="b" transform="rotate(59.15)" x="-660">100</text>
<text class="b" transform="rotate(67.45)" x="-625">87</text>
<text class="b" transform="rotate(51.35)" x="-660">100</text>
<text class="b" transform="rotate(61.6)" x="-585">99</text>
<text class="b" transform="rotate(47.95)" x="-660">100</text>
<text class="b" transform="rotate(35.75)" x="-660">100</text>
<text class="b" transform="rotate(39.65)" x="-620">65</text>
<text class="b" transform="rotate(53.13)" x="-545">64</text>
<text class="b" transform="rotate(27.95)" x="-660">100</text>
<text class="b" transform="rotate(42.89)" x="-507">92</text>
<text class="b" transform="rotate(20.65)" x="-660">100</text>
<text class="b" transform="rotate(4.55)" x="-660">100</text>
<text class="b" transform="rotate(7.48)" x="-620">72</text>
<text class="b" transform="rotate(11.87)" x="-575">100</text>
<text class="b" transform="rotate(16.69)" x="-545">54</text>
<text class="b" transform="rotate(32.29)" x="-467">41</text>
<text class="b" transform="rotate(-3.25)" x="-660">100</text>
<text class="b" transform="rotate(17.27)" x="-420">70</text>
<text class="b" transform="rotate(6.64)" x="-380">100</text>
<text class="b" transform="rotate(-22.75)" x="-660">100</text>
<text class="b" transform="rotate(-19.82)" x="-620">100</text>
<text class="b" transform="rotate(-16.41)" x="-580">100</text>
<text class="b" transform="rotate(-30.55)" x="-655">100</text>
<text class="b" transform="rotate(-2.33)" x="-350">83</text>
<text class="b" transform="rotate(-13.29)" x="-305">100</text>
<text class="b" transform="rotate(-22)" x="-266">100</text>
</g>
</g>
<g id="clades">
<text class="cl" transform="translate(62 645) rotate(-68)">Iβ</text>
<text class="cl" transform="translate(1863 253) rotate(43.5)">Iα-A</text>
<text class="cl" transform="translate(1957 1738) rotate(-51)">Iα-B</text>
<text class="cl" transform="translate(742 2090) rotate(19.5)">Iα-C</text>
</g>
</svg>
